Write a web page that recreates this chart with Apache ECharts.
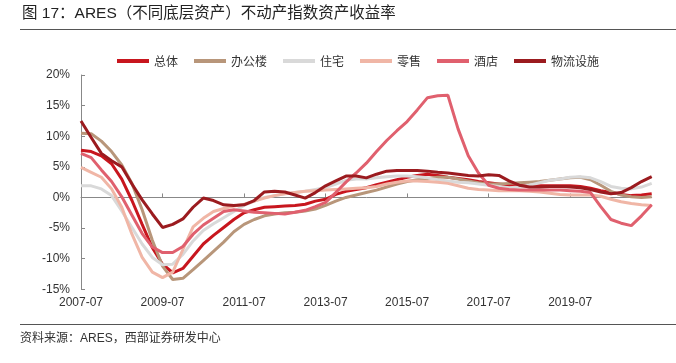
<!DOCTYPE html>
<html><head><meta charset="utf-8">
<script src="https://cdn.jsdelivr.net/npm/echarts/dist/echarts.min.js"></script>
<style>html,body{margin:0;padding:0;background:#fff}#c{width:676px;height:363px}</style>
</head><body><div id="c"></div>
<script>
const categories = ['2007-07','2007-10','2008-01','2008-04','2008-07','2008-10','2009-01','2009-04','2009-07','2009-10','2010-01','2010-04','2010-07','2010-10','2011-01','2011-04','2011-07','2011-10','2012-01','2012-04','2012-07','2012-10','2013-01','2013-04','2013-07','2013-10','2014-01','2014-04','2014-07','2014-10','2015-01','2015-04','2015-07','2015-10','2016-01','2016-04','2016-07','2016-10','2017-01','2017-04','2017-07','2017-10','2018-01','2018-04','2018-07','2018-10','2019-01','2019-04','2019-07','2019-10','2020-01','2020-04','2020-07','2020-10','2021-01','2021-04','2021-07'];
const seriesNames = ['总体','办公楼','住宅','零售','酒店','物流设施'];
const zongti = [7.7,7.5,6.8,5.5,3.0,-0.5,-4.4,-8.2,-10.9,-12.3, -11.6,-9.6,-7.6,-6.2,-4.9,-3.6,-2.5,-2.0,-1.6,-1.5, -1.4,-1.3,-1.1,-0.6,-0.3,0.5,1.0,1.3,1.6,2.1, 2.5,2.9,3.3,3.6,3.8,3.6,3.3,3.1,2.9,2.6, 2.4,2.2,2.0,1.9,1.9,1.9,1.9,1.9,1.9,1.8, 1.5,1.1,0.8,0.5,0.3,0.4,0.6];
const bangonglou = [10.5,10.4,9.2,7.5,5.3,2.3,-2.0,-7.0,-11.2,-13.4, -13.2,-11.8,-10.3,-8.8,-7.3,-5.6,-4.4,-3.6,-3.0,-2.7, -2.5,-2.4,-2.2,-1.9,-1.3,-0.6,0.0,0.4,0.8,1.2, 1.7,2.2,2.6,2.9,3.1,3.3,3.3,3.0,2.7,2.4, 2.2,2.2,2.3,2.4,2.5,2.6,2.8,3.0,3.2,3.3, 2.9,2.0,1.0,0.4,0.1,0.0,0.1];
const zhuzhai = [1.9,1.9,1.4,0.3,-2.2,-4.9,-7.6,-9.8,-11.0,-10.9, -9.3,-7.1,-5.4,-4.3,-3.3,-2.3,-1.3,-0.6,0.0,0.3, 0.6,0.8,1.0,1.3,1.6,2.2,2.8,3.0,3.0,3.2, 3.4,3.5,3.5,3.4,3.2,2.9,2.7,2.5,2.4,2.2, 2.0,1.8,1.6,1.7,2.0,2.4,2.8,3.0,3.3,3.4, 3.2,2.6,1.8,1.5,1.4,1.7,2.3];
const lingshou = [4.9,4.1,3.3,1.4,-1.6,-6.0,-9.8,-12.2,-13.1,-12.2, -8.5,-4.8,-3.4,-2.3,-1.8,-1.4,-1.1,-0.6,-0.1,0.3, 0.6,0.8,1.0,1.1,1.2,1.3,1.4,1.5,1.6,1.8, 2.2,2.5,2.7,2.7,2.6,2.5,2.3,1.9,1.5,1.3, 1.2,1.1,1.1,1.1,1.0,0.9,0.7,0.5,0.4,0.4, 0.4,0.2,-0.3,-0.7,-1.0,-1.2,-1.3];
const jiudian = [7.2,6.5,4.5,2.6,0.1,-2.9,-5.9,-8.1,-9.0,-9.0, -8.0,-6.0,-4.5,-3.4,-2.3,-2.0,-2.2,-2.4,-2.5,-2.6, -2.7,-2.4,-2.1,-1.5,-0.8,0.8,2.5,4.0,5.6,7.5, 9.3,10.9,12.4,14.3,16.3,16.6,16.7,11.2,6.8,4.0, 2.0,1.5,1.3,1.2,1.2,1.2,1.2,1.2,1.1,1.0, 0.8,-1.5,-3.6,-4.2,-4.6,-3.0,-1.2];
const wuliu = [12.5,9.8,7.2,6.0,5.0,2.2,-0.4,-2.7,-4.9,-4.4, -3.5,-1.6,-0.1,-0.5,-1.2,-1.3,-1.2,-0.5,0.9,1.0, 0.9,0.4,-0.1,0.8,1.9,2.7,3.5,3.5,3.2,3.8, 4.3,4.4,4.4,4.4,4.3,4.1,4.0,3.8,3.6,3.5, 3.7,3.6,2.7,2.0,1.7,1.7,1.8,1.8,1.7,1.6, 1.3,0.9,0.6,0.8,1.6,2.6,3.4];
const yTicks = [-15,-10,-5,0,5,10,15,20];
const colors = ['#C8161E','#B8967A','#D9D9D9','#F0B6A6','#E0606E','#9B1B1F'];
const titleText = '图 17：ARES（不同底层资产）不动产指数资产收益率';
const sourceText = '资料来源：ARES，西部证券研发中心';

const allData = [zongti, bangonglou, zhuzhai, lingshou, jiudian, wuliu];
const chart = echarts.init(document.getElementById('c'), null, {renderer: 'canvas'});
const latin = '"Liberation Sans", Arial, sans-serif';
const mixed = '"Liberation Sans", "Noto Sans CJK SC", sans-serif';
const cjk = '"Noto Sans CJK SC", sans-serif';
chart.setOption({
  animation: false,
  backgroundColor: '#fff',
  color: colors,
  graphic: [
    {type: 'text', left: 22, top: 6, style: {text: titleText, font: '15.5px ' + mixed, fill: '#222'}},
    {type: 'line', shape: {x1: 20, y1: 29.5, x2: 676, y2: 29.5}, style: {stroke: '#555', lineWidth: 1}},
    {type: 'line', shape: {x1: 20, y1: 324.5, x2: 676, y2: 324.5}, style: {stroke: '#555', lineWidth: 1}},
    {type: 'text', left: 20, top: 333, style: {text: sourceText, font: '12px ' + mixed, fill: '#333'}}
  ],
  legend: {
    left: 112, top: 50, icon: 'rect', itemWidth: 32, itemHeight: 4, itemGap: 16,
    textStyle: {fontFamily: cjk, fontSize: 12, color: '#333'},
    data: seriesNames
  },
  grid: {left: 81, right: 24.3, top: 75, bottom: 73.7, containLabel: false},
  xAxis: [
    {
      type: 'category', data: categories, boundaryGap: false, position: 'bottom',
      axisLine: {show: false, onZero: false}, axisTick: {show: false},
      axisLabel: {interval: (i) => i % 8 === 0 && i < 56, margin: 7, fontFamily: latin, fontSize: 12, color: '#333'},
      splitLine: {show: false}
    },
    {
      type: 'category', data: categories, boundaryGap: false, position: 'top',
      axisLine: {show: true, onZero: true, lineStyle: {color: '#888', width: 1}},
      axisTick: {show: true, inside: false, length: 4, interval: (i) => i % 8 === 0 && i > 0 && i < 56, lineStyle: {color: '#888'}},
      axisLabel: {show: false}, splitLine: {show: false}
    }
  ],
  yAxis: {
    type: 'value', min: yTicks[0], max: yTicks[yTicks.length - 1], interval: 5,
    axisLine: {show: true, onZero: false, lineStyle: {color: '#888', width: 1}},
    axisTick: {show: true, inside: true, length: 4, lineStyle: {color: '#888'}},
    axisLabel: {formatter: (v) => v + '%', margin: 11, fontFamily: latin, fontSize: 12, color: '#333'},
    splitLine: {show: false}
  },
  series: seriesNames.map((name, k) => ({
    name: name, type: 'line', xAxisIndex: 0, data: allData[k],
    symbol: 'none', smooth: false,
    lineStyle: {width: 3, color: colors[k]},
    itemStyle: {color: colors[k]}
  }))
});
</script>
</body></html>
